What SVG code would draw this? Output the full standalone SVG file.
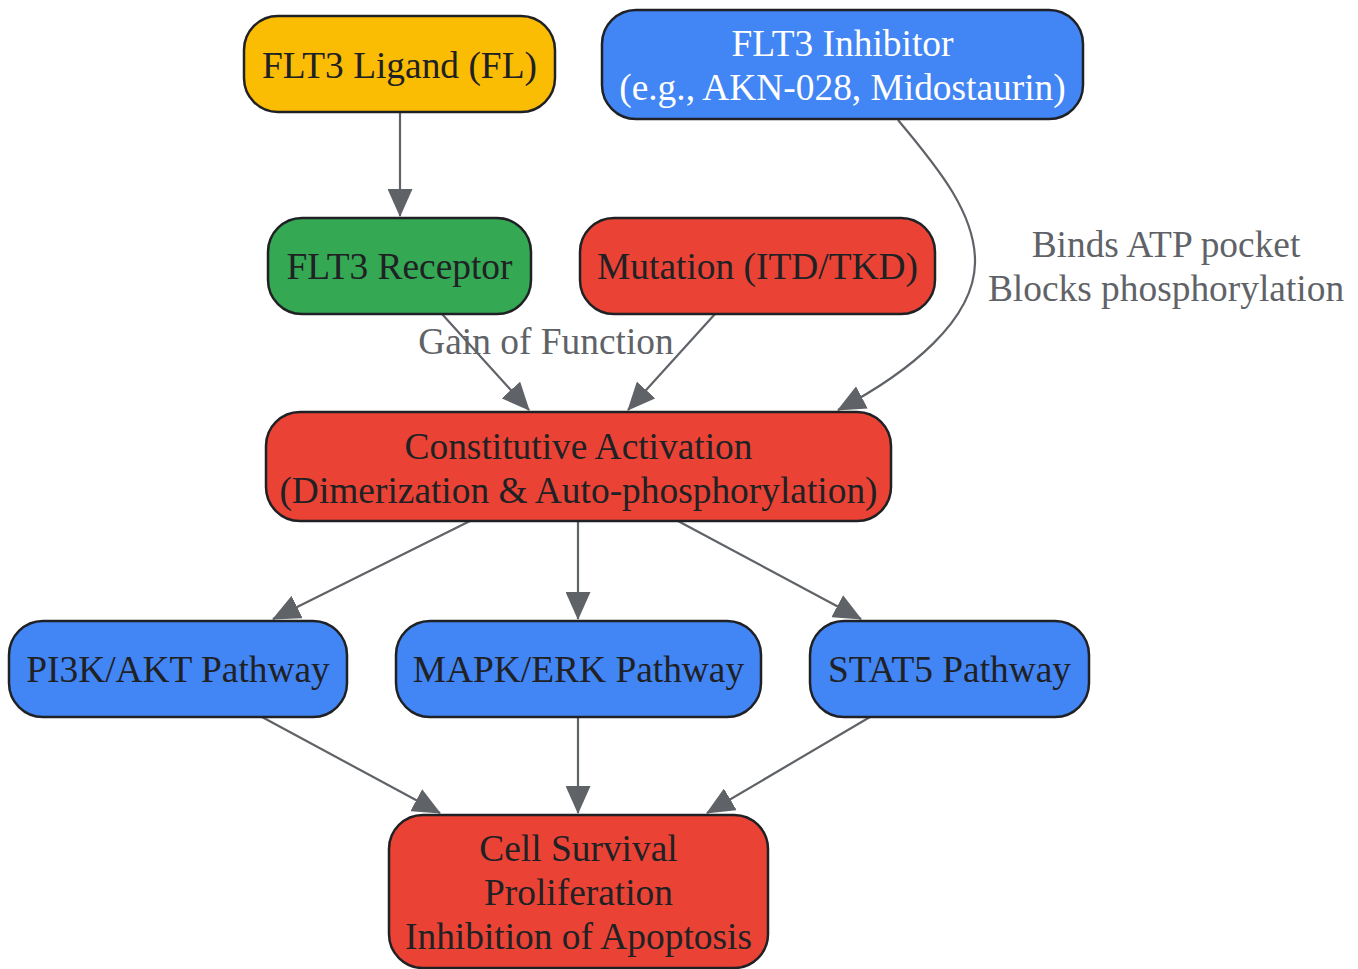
<svg xmlns="http://www.w3.org/2000/svg" width="1358" height="969" viewBox="0 0 1358 969">
<defs>
<marker id="arr" markerUnits="userSpaceOnUse" viewBox="0 0 28 25" refX="27" refY="12.5" markerWidth="28" markerHeight="25" orient="auto">
<path d="M0,0 L28,12.5 L0,25 z" fill="#5f6368"/>
</marker>
<style>
.n{stroke:#202124;stroke-width:2.5}
.t{font-family:"Liberation Serif","Times New Roman",serif;font-size:37.4px;fill:#202124;text-anchor:middle}
.w{fill:#ffffff}
.e{fill:none;stroke:#5f6368;stroke-width:2.2;marker-end:url(#arr)}
.l{font-family:"Liberation Serif","Times New Roman",serif;font-size:37.4px;fill:#5f6368;text-anchor:middle}
</style>
</defs>
<rect width="1358" height="969" fill="#ffffff"/>
<g id="connectors">
<path class="e" d="M400,112 L400,216"/>
<path class="e" d="M442,314 L529,410"/>
<path class="e" d="M715,314 L628,410"/>
<path class="e" d="M898,120 C940,170 976,215 975,263 C974,320 910,372 838,410"/>
<path class="e" d="M470,521 L273,619"/>
<path class="e" d="M578,521 L578,619"/>
<path class="e" d="M678,521 L861,619"/>
<path class="e" d="M262,717 L440,813"/>
<path class="e" d="M578,717 L578,813"/>
<path class="e" d="M870,717 L707,813"/>
<text class="l" x="546" y="354">Gain of Function</text>
<text class="l" x="1166" y="257">Binds ATP pocket</text>
<text class="l" x="1166" y="301">Blocks phosphorylation</text>
</g>
<g id="ligand"><rect class="n" x="244" y="16" width="311" height="96" rx="34" fill="#fbbc04"/><text class="t" x="399.5" y="78">FLT3 Ligand (FL)</text></g>
<g id="inhibitor"><rect class="n" x="602" y="10" width="481" height="109" rx="34" fill="#4285f4"/><text class="t w" x="842.5" y="56">FLT3 Inhibitor</text><text class="t w" x="842.5" y="100">(e.g., AKN-028, Midostaurin)</text></g>
<g id="receptor"><rect class="n" x="268" y="218" width="263" height="96" rx="34" fill="#34a853"/><text class="t" x="399.5" y="279">FLT3 Receptor</text></g>
<g id="mutation"><rect class="n" x="580" y="218" width="355" height="96" rx="34" fill="#ea4335"/><text class="t" x="757.5" y="279">Mutation (ITD/TKD)</text></g>
<g id="activation"><rect class="n" x="266" y="412" width="625" height="109" rx="34" fill="#ea4335"/><text class="t" x="578.5" y="459">Constitutive Activation</text><text class="t" x="578.5" y="503">(Dimerization &amp; Auto-phosphorylation)</text></g>
<g id="pi3k"><rect class="n" x="9" y="621" width="338" height="96" rx="34" fill="#4285f4"/><text class="t" x="178" y="682">PI3K/AKT Pathway</text></g>
<g id="mapk"><rect class="n" x="396" y="621" width="365" height="96" rx="34" fill="#4285f4"/><text class="t" x="578.5" y="682">MAPK/ERK Pathway</text></g>
<g id="stat5"><rect class="n" x="810" y="621" width="279" height="96" rx="34" fill="#4285f4"/><text class="t" x="949.5" y="682">STAT5 Pathway</text></g>
<g id="survival"><rect class="n" x="389" y="815" width="379" height="153" rx="34" fill="#ea4335"/><text class="t" x="578.5" y="861">Cell Survival</text><text class="t" x="578.5" y="905">Proliferation</text><text class="t" x="578.5" y="949">Inhibition of Apoptosis</text></g>
</svg>
